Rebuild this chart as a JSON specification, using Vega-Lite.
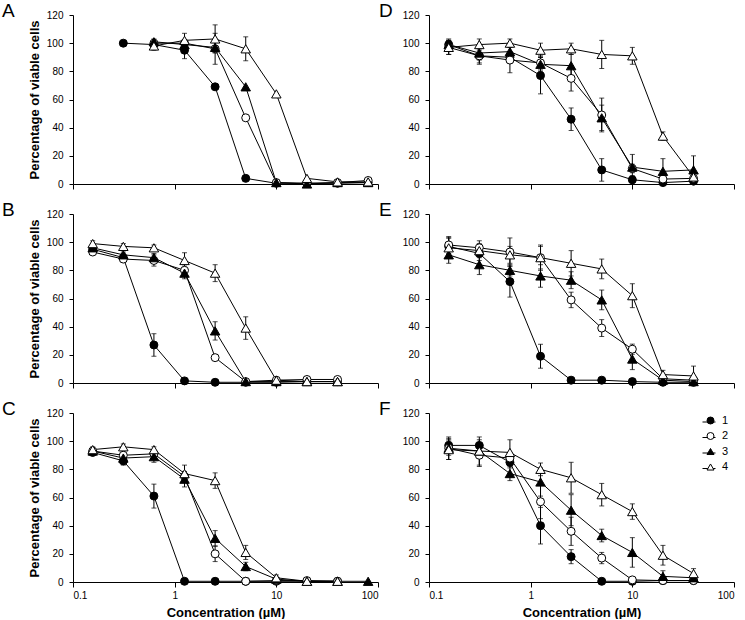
{
"$schema": "https://vega.github.io/schema/vega-lite/v6.json",
"autosize": {"type": "pad"},
"padding": {"left": 2, "top": 2, "right": 0, "bottom": 0},
"background": "white",
"config": {
  "view": {"stroke": null},
  "font": "Liberation Sans",
  "axis": {"grid": false, "domainColor": "black", "tickColor": "black", "labelColor": "black", "titleColor": "black", "labelFont": "Liberation Sans", "titleFont": "Liberation Sans", "labelFontSize": 10, "titleFontSize": 13, "titleFontWeight": "bold", "tickSize": 4, "domainWidth": 1, "tickWidth": 1, "labelPadding": 6},
  "title": {"anchor": "start", "frame": "group", "fontSize": 19, "fontWeight": "normal", "font": "Liberation Sans", "color": "black", "offset": 0, "baseline": "alphabetic", "dy": 15}
},
"data": {"values": [
{"p":"A","s":"1","c":0.3125,"v":100,"e":0},{"p":"A","s":"1","c":0.625,"v":99,"e":0},{"p":"A","s":"1","c":1.25,"v":95,"e":6},{"p":"A","s":"1","c":2.5,"v":69,"e":0},{"p":"A","s":"1","c":5,"v":4,"e":0},{"p":"A","s":"1","c":10,"v":0.5,"e":0},{"p":"A","s":"1","c":20,"v":0.5,"e":0},{"p":"A","s":"1","c":40,"v":0.5,"e":0},{"p":"A","s":"1","c":80,"v":1,"e":0},
{"p":"A","s":"2","c":0.625,"v":100,"e":0},{"p":"A","s":"2","c":1.25,"v":100,"e":0},{"p":"A","s":"2","c":2.5,"v":96,"e":11},{"p":"A","s":"2","c":5,"v":47,"e":0},{"p":"A","s":"2","c":10,"v":1,"e":0},{"p":"A","s":"2","c":20,"v":0.5,"e":0},{"p":"A","s":"2","c":40,"v":1,"e":0},{"p":"A","s":"2","c":80,"v":2.5,"e":0},
{"p":"A","s":"3","c":0.625,"v":101,"e":2},{"p":"A","s":"3","c":1.25,"v":99,"e":0},{"p":"A","s":"3","c":2.5,"v":97,"e":0},{"p":"A","s":"3","c":5,"v":69,"e":0},{"p":"A","s":"3","c":10,"v":1,"e":0},{"p":"A","s":"3","c":20,"v":0,"e":0},{"p":"A","s":"3","c":40,"v":1,"e":0},{"p":"A","s":"3","c":80,"v":1,"e":0},
{"p":"A","s":"4","c":0.625,"v":98,"e":3},{"p":"A","s":"4","c":1.25,"v":102,"e":5},{"p":"A","s":"4","c":2.5,"v":103,"e":10},{"p":"A","s":"4","c":5,"v":96,"e":8.5},{"p":"A","s":"4","c":10,"v":64,"e":0},{"p":"A","s":"4","c":20,"v":4,"e":0},{"p":"A","s":"4","c":40,"v":1.5,"e":0},{"p":"A","s":"4","c":80,"v":1.5,"e":0},

{"p":"D","s":"1","c":0.15625,"v":99,"e":4},{"p":"D","s":"1","c":0.3125,"v":91,"e":6},{"p":"D","s":"1","c":0.625,"v":90,"e":4},{"p":"D","s":"1","c":1.25,"v":77,"e":13},{"p":"D","s":"1","c":2.5,"v":46,"e":8},{"p":"D","s":"1","c":5,"v":10,"e":8},{"p":"D","s":"1","c":10,"v":3,"e":3},{"p":"D","s":"1","c":20,"v":1,"e":0},{"p":"D","s":"1","c":40,"v":2,"e":0},
{"p":"D","s":"2","c":0.15625,"v":97,"e":5},{"p":"D","s":"2","c":0.3125,"v":91,"e":5},{"p":"D","s":"2","c":0.625,"v":88,"e":9},{"p":"D","s":"2","c":1.25,"v":86,"e":5},{"p":"D","s":"2","c":2.5,"v":75,"e":9},{"p":"D","s":"2","c":5,"v":49,"e":12},{"p":"D","s":"2","c":10,"v":11,"e":3},{"p":"D","s":"2","c":20,"v":3.5,"e":0},{"p":"D","s":"2","c":40,"v":4,"e":0},
{"p":"D","s":"3","c":0.15625,"v":99,"e":3},{"p":"D","s":"3","c":0.3125,"v":93,"e":5},{"p":"D","s":"3","c":0.625,"v":94,"e":5},{"p":"D","s":"3","c":1.25,"v":85,"e":5},{"p":"D","s":"3","c":2.5,"v":84,"e":8},{"p":"D","s":"3","c":5,"v":47,"e":9},{"p":"D","s":"3","c":10,"v":12,"e":9},{"p":"D","s":"3","c":20,"v":9,"e":9},{"p":"D","s":"3","c":40,"v":10,"e":10},
{"p":"D","s":"4","c":0.15625,"v":97,"e":5},{"p":"D","s":"4","c":0.3125,"v":99,"e":4},{"p":"D","s":"4","c":0.625,"v":100,"e":3},{"p":"D","s":"4","c":1.25,"v":95,"e":5},{"p":"D","s":"4","c":2.5,"v":96,"e":4},{"p":"D","s":"4","c":5,"v":92,"e":10},{"p":"D","s":"4","c":10,"v":91,"e":6},{"p":"D","s":"4","c":20,"v":34,"e":3},{"p":"D","s":"4","c":40,"v":5,"e":3},

{"p":"B","s":"1","c":0.15625,"v":95,"e":2},{"p":"B","s":"1","c":0.3125,"v":89,"e":3},{"p":"B","s":"1","c":0.625,"v":27,"e":8},{"p":"B","s":"1","c":1.25,"v":1.5,"e":1},{"p":"B","s":"1","c":2.5,"v":0.5,"e":0},{"p":"B","s":"1","c":5,"v":0.5,"e":0},{"p":"B","s":"1","c":10,"v":0.5,"e":0},{"p":"B","s":"1","c":20,"v":1,"e":0},{"p":"B","s":"1","c":40,"v":1,"e":0},
{"p":"B","s":"2","c":0.15625,"v":93,"e":2},{"p":"B","s":"2","c":0.3125,"v":88,"e":2},{"p":"B","s":"2","c":0.625,"v":87,"e":4},{"p":"B","s":"2","c":1.25,"v":80,"e":3},{"p":"B","s":"2","c":2.5,"v":18,"e":2},{"p":"B","s":"2","c":5,"v":1,"e":0},{"p":"B","s":"2","c":10,"v":2,"e":0},{"p":"B","s":"2","c":20,"v":2.5,"e":0},{"p":"B","s":"2","c":40,"v":2.5,"e":0},
{"p":"B","s":"3","c":0.15625,"v":96,"e":2},{"p":"B","s":"3","c":0.3125,"v":91,"e":2},{"p":"B","s":"3","c":0.625,"v":89,"e":3},{"p":"B","s":"3","c":1.25,"v":78,"e":4},{"p":"B","s":"3","c":2.5,"v":37,"e":6.5},{"p":"B","s":"3","c":5,"v":1,"e":0},{"p":"B","s":"3","c":10,"v":1,"e":0},{"p":"B","s":"3","c":20,"v":1,"e":0},{"p":"B","s":"3","c":40,"v":1,"e":0},
{"p":"B","s":"4","c":0.15625,"v":99,"e":2},{"p":"B","s":"4","c":0.3125,"v":97,"e":2},{"p":"B","s":"4","c":0.625,"v":96,"e":2},{"p":"B","s":"4","c":1.25,"v":87,"e":5.5},{"p":"B","s":"4","c":2.5,"v":78,"e":6},{"p":"B","s":"4","c":5,"v":39,"e":8},{"p":"B","s":"4","c":10,"v":2,"e":0},{"p":"B","s":"4","c":20,"v":1,"e":0},{"p":"B","s":"4","c":40,"v":1,"e":0},

{"p":"E","s":"1","c":0.15625,"v":97,"e":6},{"p":"E","s":"1","c":0.3125,"v":92,"e":5},{"p":"E","s":"1","c":0.625,"v":72,"e":11},{"p":"E","s":"1","c":1.25,"v":19,"e":8.5},{"p":"E","s":"1","c":2.5,"v":2,"e":0},{"p":"E","s":"1","c":5,"v":2,"e":0},{"p":"E","s":"1","c":10,"v":1,"e":0},{"p":"E","s":"1","c":20,"v":0.5,"e":0},{"p":"E","s":"1","c":40,"v":0.5,"e":0},
{"p":"E","s":"2","c":0.15625,"v":98,"e":6},{"p":"E","s":"2","c":0.3125,"v":96,"e":5},{"p":"E","s":"2","c":0.625,"v":93,"e":10},{"p":"E","s":"2","c":1.25,"v":89,"e":9},{"p":"E","s":"2","c":2.5,"v":59,"e":5.5},{"p":"E","s":"2","c":5,"v":39,"e":6},{"p":"E","s":"2","c":10,"v":24,"e":3.6},{"p":"E","s":"2","c":20,"v":3,"e":0},{"p":"E","s":"2","c":40,"v":2,"e":0},
{"p":"E","s":"3","c":0.15625,"v":91,"e":6},{"p":"E","s":"3","c":0.3125,"v":84,"e":7},{"p":"E","s":"3","c":0.625,"v":80,"e":4},{"p":"E","s":"3","c":1.25,"v":76,"e":8},{"p":"E","s":"3","c":2.5,"v":73,"e":6},{"p":"E","s":"3","c":5,"v":59,"e":7},{"p":"E","s":"3","c":10,"v":17,"e":7.5},{"p":"E","s":"3","c":20,"v":2,"e":0},{"p":"E","s":"3","c":40,"v":1,"e":0},
{"p":"E","s":"4","c":0.15625,"v":96,"e":7},{"p":"E","s":"4","c":0.3125,"v":94,"e":5},{"p":"E","s":"4","c":0.625,"v":91,"e":6},{"p":"E","s":"4","c":1.25,"v":89,"e":8},{"p":"E","s":"4","c":2.5,"v":85,"e":9},{"p":"E","s":"4","c":5,"v":81,"e":7},{"p":"E","s":"4","c":10,"v":62,"e":8.5},{"p":"E","s":"4","c":20,"v":6,"e":3},{"p":"E","s":"4","c":40,"v":5,"e":7},

{"p":"C","s":"1","c":0.15625,"v":92,"e":2},{"p":"C","s":"1","c":0.3125,"v":86,"e":3},{"p":"C","s":"1","c":0.625,"v":61,"e":8.5},{"p":"C","s":"1","c":1.25,"v":0.5,"e":0},{"p":"C","s":"1","c":2.5,"v":0.5,"e":0},{"p":"C","s":"1","c":5,"v":0.5,"e":0},{"p":"C","s":"1","c":10,"v":0.5,"e":0},{"p":"C","s":"1","c":20,"v":0.5,"e":0},{"p":"C","s":"1","c":40,"v":0.5,"e":0},
{"p":"C","s":"2","c":0.15625,"v":93,"e":2},{"p":"C","s":"2","c":0.3125,"v":90,"e":2},{"p":"C","s":"2","c":0.625,"v":91,"e":2},{"p":"C","s":"2","c":1.25,"v":75,"e":3},{"p":"C","s":"2","c":2.5,"v":20,"e":5.5},{"p":"C","s":"2","c":5,"v":0.5,"e":0},{"p":"C","s":"2","c":10,"v":1,"e":0},{"p":"C","s":"2","c":20,"v":1,"e":0},{"p":"C","s":"2","c":40,"v":0.5,"e":0},
{"p":"C","s":"3","c":0.15625,"v":93,"e":2},{"p":"C","s":"3","c":0.3125,"v":88,"e":2},{"p":"C","s":"3","c":0.625,"v":89,"e":4},{"p":"C","s":"3","c":1.25,"v":73,"e":5.5},{"p":"C","s":"3","c":2.5,"v":31,"e":5.5},{"p":"C","s":"3","c":5,"v":11,"e":3},{"p":"C","s":"3","c":10,"v":2,"e":0},{"p":"C","s":"3","c":20,"v":0.5,"e":0},{"p":"C","s":"3","c":40,"v":0.5,"e":0},{"p":"C","s":"3","c":80,"v":0.5,"e":0},
{"p":"C","s":"4","c":0.15625,"v":94,"e":2},{"p":"C","s":"4","c":0.3125,"v":96,"e":2},{"p":"C","s":"4","c":0.625,"v":94,"e":2},{"p":"C","s":"4","c":1.25,"v":77,"e":6},{"p":"C","s":"4","c":2.5,"v":72,"e":5.5},{"p":"C","s":"4","c":5,"v":21,"e":5},{"p":"C","s":"4","c":10,"v":3,"e":2},{"p":"C","s":"4","c":20,"v":0.5,"e":0},{"p":"C","s":"4","c":40,"v":0.5,"e":0},

{"p":"F","s":"1","c":0.15625,"v":97,"e":5},{"p":"F","s":"1","c":0.3125,"v":97,"e":4},{"p":"F","s":"1","c":0.625,"v":85,"e":4},{"p":"F","s":"1","c":1.25,"v":40,"e":13},{"p":"F","s":"1","c":2.5,"v":18,"e":5},{"p":"F","s":"1","c":5,"v":0.5,"e":0},{"p":"F","s":"1","c":10,"v":0.5,"e":0},{"p":"F","s":"1","c":20,"v":1,"e":0},{"p":"F","s":"1","c":40,"v":1,"e":0},
{"p":"F","s":"2","c":0.15625,"v":95,"e":8},{"p":"F","s":"2","c":0.3125,"v":90,"e":8},{"p":"F","s":"2","c":0.625,"v":88,"e":4},{"p":"F","s":"2","c":1.25,"v":57,"e":12},{"p":"F","s":"2","c":2.5,"v":36,"e":10},{"p":"F","s":"2","c":5,"v":17,"e":4},{"p":"F","s":"2","c":10,"v":1.5,"e":0},{"p":"F","s":"2","c":20,"v":1,"e":0},{"p":"F","s":"2","c":40,"v":1,"e":0},
{"p":"F","s":"3","c":0.15625,"v":95,"e":5},{"p":"F","s":"3","c":0.3125,"v":93,"e":5},{"p":"F","s":"3","c":0.625,"v":77,"e":5},{"p":"F","s":"3","c":1.25,"v":71,"e":10},{"p":"F","s":"3","c":2.5,"v":51,"e":11},{"p":"F","s":"3","c":5,"v":33,"e":4.5},{"p":"F","s":"3","c":10,"v":21,"e":10.5},{"p":"F","s":"3","c":20,"v":4,"e":4},{"p":"F","s":"3","c":40,"v":3,"e":0},
{"p":"F","s":"4","c":0.15625,"v":94,"e":7},{"p":"F","s":"4","c":0.3125,"v":93,"e":10},{"p":"F","s":"4","c":0.625,"v":92,"e":9},{"p":"F","s":"4","c":1.25,"v":80,"e":4.5},{"p":"F","s":"4","c":2.5,"v":74,"e":11},{"p":"F","s":"4","c":5,"v":62,"e":8},{"p":"F","s":"4","c":10,"v":50,"e":5.5},{"p":"F","s":"4","c":20,"v":19,"e":7},{"p":"F","s":"4","c":40,"v":6,"e":3.5}
]},
"columns": 2,
"spacing": {"row": 30, "column": 51},
"bounds": "flush",
"resolve": {"scale": {"shape": "independent", "fill": "independent", "color": "independent"}, "legend": {"shape": "independent", "fill": "independent", "color": "independent"}},
"concat": [
{"width": 305, "height": 169, "title": {"text": "A", "dx": -71},
 "transform": [{"filter": "datum.p === 'A'"}],
 "encoding": {
  "x": {"field": "c", "type": "quantitative", "scale": {"type": "log", "domain": [0.1, 100], "nice": false}, "axis": {"values": [0.1, 1, 10, 100], "format": "~g", "labels": false, "title": null, "tickSize": 5}},
  "y": {"field": "v", "type": "quantitative", "scale": {"domain": [0, 120], "nice": false}, "axis": {"values": [0, 20, 40, 60, 80, 100, 120], "title": "Percentage of viable cells", "titlePadding": 5}}
 },
 "layer": [
  {"transform": [{"filter": "datum.e > 0"}], "mark": {"type": "errorbar", "color": "black", "thickness": 1, "ticks": {"size": 5, "color": "black"}}, "encoding": {"yError": {"field": "e"}}},
  {"mark": {"type": "line", "color": "black", "strokeWidth": 1}, "encoding": {"detail": {"field": "s"}}},
  {"mark": {"type": "point", "filled": true, "stroke": "black", "strokeWidth": 1, "opacity": 1},
   "encoding": {
    "shape": {"field": "s", "type": "nominal", "scale": {"domain": ["1", "2", "3", "4"], "range": ["circle", "circle", "triangle-up", "triangle-up"]}, "legend": null},
    "fill": {"field": "s", "type": "nominal", "scale": {"domain": ["1", "2", "3", "4"], "range": ["black", "white", "black", "white"]}, "legend": null},
    "size": {"condition": {"test": "datum.s === '3' || datum.s === '4'", "value": 90}, "value": 64}
   }}
 ]},
{"width": 305, "height": 169, "title": {"text": "D", "dx": -50},
 "transform": [{"filter": "datum.p === 'D'"}],
 "encoding": {
  "x": {"field": "c", "type": "quantitative", "scale": {"type": "log", "domain": [0.1, 100], "nice": false}, "axis": {"values": [0.1, 1, 10, 100], "format": "~g", "labels": false, "title": null, "tickSize": 5}},
  "y": {"field": "v", "type": "quantitative", "scale": {"domain": [0, 120], "nice": false}, "axis": {"values": [0, 20, 40, 60, 80, 100, 120], "title": null}}
 },
 "layer": [
  {"transform": [{"filter": "datum.e > 0"}], "mark": {"type": "errorbar", "color": "black", "thickness": 1, "ticks": {"size": 5, "color": "black"}}, "encoding": {"yError": {"field": "e"}}},
  {"mark": {"type": "line", "color": "black", "strokeWidth": 1}, "encoding": {"detail": {"field": "s"}}},
  {"mark": {"type": "point", "filled": true, "stroke": "black", "strokeWidth": 1, "opacity": 1},
   "encoding": {
    "shape": {"field": "s", "type": "nominal", "scale": {"domain": ["1", "2", "3", "4"], "range": ["circle", "circle", "triangle-up", "triangle-up"]}, "legend": null},
    "fill": {"field": "s", "type": "nominal", "scale": {"domain": ["1", "2", "3", "4"], "range": ["black", "white", "black", "white"]}, "legend": null},
    "size": {"condition": {"test": "datum.s === '3' || datum.s === '4'", "value": 90}, "value": 64}
   }}
 ]},
{"width": 305, "height": 169, "title": {"text": "B", "dx": -71},
 "transform": [{"filter": "datum.p === 'B'"}],
 "encoding": {
  "x": {"field": "c", "type": "quantitative", "scale": {"type": "log", "domain": [0.1, 100], "nice": false}, "axis": {"values": [0.1, 1, 10, 100], "format": "~g", "labels": false, "title": null, "tickSize": 5}},
  "y": {"field": "v", "type": "quantitative", "scale": {"domain": [0, 120], "nice": false}, "axis": {"values": [0, 20, 40, 60, 80, 100, 120], "title": "Percentage of viable cells", "titlePadding": 5}}
 },
 "layer": [
  {"transform": [{"filter": "datum.e > 0"}], "mark": {"type": "errorbar", "color": "black", "thickness": 1, "ticks": {"size": 5, "color": "black"}}, "encoding": {"yError": {"field": "e"}}},
  {"mark": {"type": "line", "color": "black", "strokeWidth": 1}, "encoding": {"detail": {"field": "s"}}},
  {"mark": {"type": "point", "filled": true, "stroke": "black", "strokeWidth": 1, "opacity": 1},
   "encoding": {
    "shape": {"field": "s", "type": "nominal", "scale": {"domain": ["1", "2", "3", "4"], "range": ["circle", "circle", "triangle-up", "triangle-up"]}, "legend": null},
    "fill": {"field": "s", "type": "nominal", "scale": {"domain": ["1", "2", "3", "4"], "range": ["black", "white", "black", "white"]}, "legend": null},
    "size": {"condition": {"test": "datum.s === '3' || datum.s === '4'", "value": 90}, "value": 64}
   }}
 ]},
{"width": 305, "height": 169, "title": {"text": "E", "dx": -50},
 "transform": [{"filter": "datum.p === 'E'"}],
 "encoding": {
  "x": {"field": "c", "type": "quantitative", "scale": {"type": "log", "domain": [0.1, 100], "nice": false}, "axis": {"values": [0.1, 1, 10, 100], "format": "~g", "labels": false, "title": null, "tickSize": 5}},
  "y": {"field": "v", "type": "quantitative", "scale": {"domain": [0, 120], "nice": false}, "axis": {"values": [0, 20, 40, 60, 80, 100, 120], "title": null}}
 },
 "layer": [
  {"transform": [{"filter": "datum.e > 0"}], "mark": {"type": "errorbar", "color": "black", "thickness": 1, "ticks": {"size": 5, "color": "black"}}, "encoding": {"yError": {"field": "e"}}},
  {"mark": {"type": "line", "color": "black", "strokeWidth": 1}, "encoding": {"detail": {"field": "s"}}},
  {"mark": {"type": "point", "filled": true, "stroke": "black", "strokeWidth": 1, "opacity": 1},
   "encoding": {
    "shape": {"field": "s", "type": "nominal", "scale": {"domain": ["1", "2", "3", "4"], "range": ["circle", "circle", "triangle-up", "triangle-up"]}, "legend": null},
    "fill": {"field": "s", "type": "nominal", "scale": {"domain": ["1", "2", "3", "4"], "range": ["black", "white", "black", "white"]}, "legend": null},
    "size": {"condition": {"test": "datum.s === '3' || datum.s === '4'", "value": 90}, "value": 64}
   }}
 ]},
{"width": 305, "height": 169, "title": {"text": "C", "dx": -71},
 "transform": [{"filter": "datum.p === 'C'"}],
 "encoding": {
  "x": {"field": "c", "type": "quantitative", "scale": {"type": "log", "domain": [0.1, 100], "nice": false}, "axis": {"values": [0.1, 1, 10, 100], "format": "~g", "title": "Concentration (µM)", "tickSize": 5, "labelPadding": 3, "titlePadding": 6}},
  "y": {"field": "v", "type": "quantitative", "scale": {"domain": [0, 120], "nice": false}, "axis": {"values": [0, 20, 40, 60, 80, 100, 120], "title": "Percentage of viable cells", "titlePadding": 5}}
 },
 "layer": [
  {"transform": [{"filter": "datum.e > 0"}], "mark": {"type": "errorbar", "color": "black", "thickness": 1, "ticks": {"size": 5, "color": "black"}}, "encoding": {"yError": {"field": "e"}}},
  {"mark": {"type": "line", "color": "black", "strokeWidth": 1}, "encoding": {"detail": {"field": "s"}}},
  {"mark": {"type": "point", "filled": true, "stroke": "black", "strokeWidth": 1, "opacity": 1},
   "encoding": {
    "shape": {"field": "s", "type": "nominal", "scale": {"domain": ["1", "2", "3", "4"], "range": ["circle", "circle", "triangle-up", "triangle-up"]}, "legend": null},
    "fill": {"field": "s", "type": "nominal", "scale": {"domain": ["1", "2", "3", "4"], "range": ["black", "white", "black", "white"]}, "legend": null},
    "size": {"condition": {"test": "datum.s === '3' || datum.s === '4'", "value": 90}, "value": 64}
   }}
 ]},
{"width": 305, "height": 169, "title": {"text": "F", "dx": -50},
 "transform": [{"filter": "datum.p === 'F'"}],
 "encoding": {
  "x": {"field": "c", "type": "quantitative", "scale": {"type": "log", "domain": [0.1, 100], "nice": false}, "axis": {"values": [0.1, 1, 10, 100], "format": "~g", "title": "Concentration (µM)", "tickSize": 5, "labelPadding": 3, "titlePadding": 6}},
  "y": {"field": "v", "type": "quantitative", "scale": {"domain": [0, 120], "nice": false}, "axis": {"values": [0, 20, 40, 60, 80, 100, 120], "title": null}}
 },
 "layer": [
  {"transform": [{"filter": "datum.e > 0"}], "mark": {"type": "errorbar", "color": "black", "thickness": 1, "ticks": {"size": 5, "color": "black"}}, "encoding": {"yError": {"field": "e"}}},
  {"mark": {"type": "line", "strokeWidth": 1},
   "encoding": {"color": {"field": "s", "type": "nominal", "scale": {"range": ["black", "black", "black", "black"]},
     "legend": {"orient": "none", "legendX": 273, "legendY": 2, "offset": 0, "title": null, "padding": 0, "labelFontSize": 11, "labelFont": "Liberation Sans", "labelOpacity": 0, "labelOffset": 6, "rowPadding": 3.5, "symbolType": "stroke", "symbolSize": 169, "symbolStrokeWidth": 1, "symbolStrokeColor": "black", "symbolOpacity": 1}}}},
  {"mark": {"type": "point", "filled": true, "stroke": "black", "strokeWidth": 1, "opacity": 1},
   "encoding": {
    "shape": {"field": "s", "type": "nominal", "scale": {"domain": ["1", "2", "3", "4"], "range": ["circle", "circle", "triangle-up", "triangle-up"]},
      "legend": {"orient": "none", "legendX": 276, "legendY": 2, "offset": 0, "title": null, "padding": 0, "labelFontSize": 11, "labelFont": "Liberation Sans", "labelColor": "black", "labelOffset": 6, "rowPadding": 3.5, "symbolSize": 49, "symbolStrokeColor": "black", "symbolStrokeWidth": 1, "symbolOpacity": 1,
        "encode": {"symbols": {"update": {"stroke": {"value": "black"}, "strokeWidth": {"value": 1}}}}}},
    "fill": {"field": "s", "type": "nominal", "scale": {"domain": ["1", "2", "3", "4"], "range": ["black", "white", "black", "white"]},
      "legend": {"orient": "none", "legendX": 276, "legendY": 2, "offset": 0, "title": null, "padding": 0, "labelFontSize": 11, "labelFont": "Liberation Sans", "labelColor": "black", "labelOffset": 6, "rowPadding": 3.5, "symbolSize": 49, "symbolStrokeColor": "black", "symbolStrokeWidth": 1, "symbolOpacity": 1,
        "encode": {"symbols": {"update": {"stroke": {"value": "black"}, "strokeWidth": {"value": 1}}}}}},
    "size": {"condition": {"test": "datum.s === '3' || datum.s === '4'", "value": 90}, "value": 64}
   }}
 ]}
]
}
